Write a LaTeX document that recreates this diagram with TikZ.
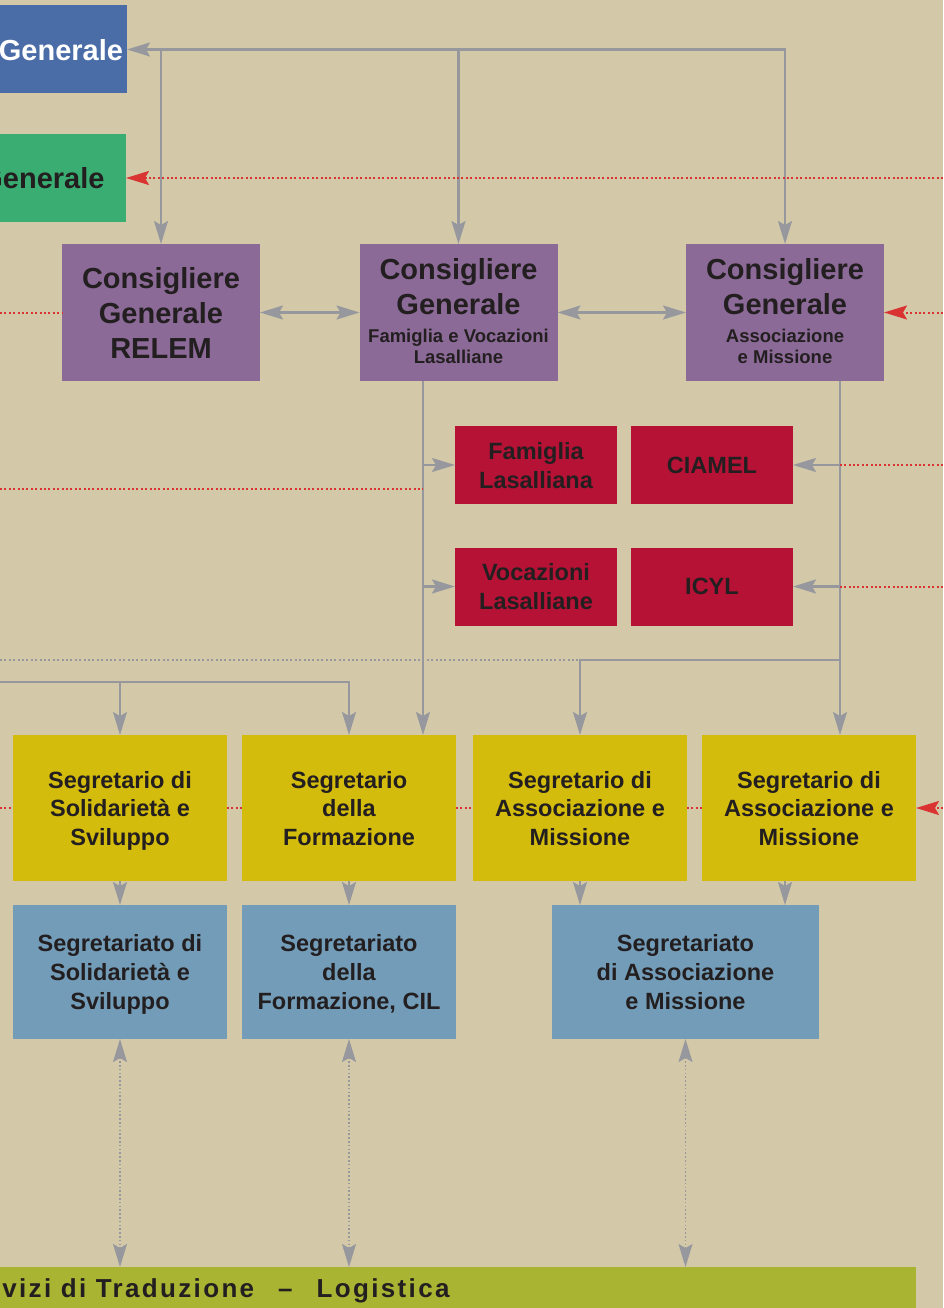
\documentclass[tikz,border=0pt]{standalone}
\usepackage{fontspec}
\setmainfont{Liberation Sans}
\newfontfamily\spaziato[LetterSpace=9]{Liberation Sans}
\usetikzlibrary{arrows.meta}

\definecolor{sfondo}{RGB}{211,201,169}
\definecolor{blu}{RGB}{74,108,167}
\definecolor{verde}{RGB}{58,174,114}
\definecolor{viola}{RGB}{140,106,152}
\definecolor{cremisi}{RGB}{181,18,53}
\definecolor{giallo}{RGB}{212,188,13}
\definecolor{azzurro}{RGB}{115,156,184}
\definecolor{oliva}{RGB}{169,180,51}
\definecolor{grigio}{RGB}{150,152,157}
\definecolor{rosso}{RGB}{218,52,50}
\definecolor{testo}{RGB}{35,31,32}

\begin{document}
\begin{tikzpicture}[x=1pt, y=-1pt, >={Stealth[length=23pt,width=14pt,inset=4pt]},
	every node/.style={inner sep=0pt, outer sep=0pt, text=testo, align=center, text depth=0pt},
	topbox/.style={font=\bfseries\fontsize{29}{34}\selectfont, minimum height=88pt},
	consbox/.style={fill=viola, minimum width=198pt, minimum height=137pt},
	cgtitle/.style={font=\bfseries\fontsize{29}{35}\selectfont},
	cgsub/.style={font=\bfseries\fontsize{18.5}{21}\selectfont},
	redbox/.style={fill=cremisi, minimum width=162pt, minimum height=78pt, font=\bfseries\fontsize{23.5}{29}\selectfont},
	segbox/.style={fill=giallo, minimum width=214pt, minimum height=146pt, font=\bfseries\fontsize{23.5}{28.5}\selectfont},
	uffbox/.style={fill=azzurro, minimum height=134pt, font=\bfseries\fontsize{23.5}{29}\selectfont},
	link/.style={draw=grigio, line width=2.1pt},
	reddots/.style={draw=rosso, line width=2pt, dash pattern=on 2pt off 2.4pt},
	greydots/.style={draw=grigio, line width=2pt, dash pattern=on 2pt off 2.4pt},
	servlink/.style={draw=grigio, line width=1.6pt, dash pattern=on 1.6pt off 2.2pt, <->}]
	\useasboundingbox (0,0) rectangle (943,1308);
	\clip (0,0) rectangle (943,1308);
	\fill[sfondo] (0,0) rectangle (943,1308);

	\node[topbox, fill=blu, text=white, minimum width=132pt] (superiore) at (61,49.5) {Generale};
	\node[topbox, fill=verde, minimum width=167pt] (vicario) at (42.5,178) {Generale};

	\node[consbox, cgtitle] (relem) at (161,312.5) {Consigliere\\Generale\\RELEM};
	\node[consbox] (fv) at (458.5,312.5) {};
	\node[consbox] (am) at (785,312.5) {};
	\node[cgtitle] (fv-t) at (458.5,286) {Consigliere\\Generale};
	\node[cgsub] (fv-s) at (458.5,346.5) {Famiglia e Vocazioni\\Lasalliane};
	\node[cgtitle] (am-t) at (785,286) {Consigliere\\Generale};
	\node[cgsub] (am-s) at (785,346.5) {Associazione\\e Missione};

	\node[redbox] (famiglia) at (536,465) {Famiglia\\Lasalliana};
	\node[redbox] (ciamel) at (712,465) {CIAMEL};
	\node[redbox] (vocazioni) at (536,586.5) {Vocazioni\\Lasalliane};
	\node[redbox] (icyl) at (712,586.5) {ICYL};

	\node[segbox] (ssol) at (120,808) {Segretario di\\Solidarietà e\\Sviluppo};
	\node[segbox] (sform) at (349,808) {Segretario\\della\\Formazione};
	\node[segbox] (sam1) at (580,808) {Segretario di\\Associazione e\\Missione};
	\node[segbox] (sam2) at (809,808) {Segretario di\\Associazione e\\Missione};

	\node[uffbox, minimum width=214pt] (segsol) at (120,972) {Segretariato di\\Solidarietà e\\Sviluppo};
	\node[uffbox, minimum width=214pt] (segform) at (349,972) {Segretariato\\della\\Formazione, CIL};
	\node[uffbox, minimum width=267pt] (segam) at (685.5,972) {Segretariato\\di Associazione\\e Missione};

	\node[fill=oliva, minimum width=976pt, minimum height=63pt] (servizi) at (428,1298.5) {};
	\node[anchor=base east, font=\spaziato\bfseries\fontsize{26}{30}\selectfont] (servizi-t) at (449.5,1297) {Servizi di Traduzione\hspace{24pt}–\hspace{24pt}Logistica};

	\coordinate (fvgiu) at ([xshift=-35.5pt]fv.south);
	\coordinate (amgiu) at ([xshift=55pt]am.south);
	\coordinate (dx1) at (943,178);
	\coordinate (sx2) at (0,312.5);
	\coordinate (dx2) at (943,312.5);
	\coordinate (sx3) at (0,489);
	\coordinate (dx3) at (943,465);
	\coordinate (dx4) at (943,586.5);
	\coordinate (sx5) at (0,660);
	\coordinate (sx6) at (0,682);
	\coordinate (sx7) at (0,808);
	\coordinate (dx7) at (943,808);

	\draw[link,<->] (am.north) |- (superiore.east);
	\foreach \n in {relem,fv} \draw[link,->] (\n.north |- superiore.east) -- (\n.north);
	\foreach \a/\b in {relem/fv,fv/am} \draw[link,<->] (\a) -- (\b);
	\draw[link,->] (fvgiu) -- (fvgiu |- sform.north);
	\foreach \n in {famiglia,vocazioni} \draw[link,->] (fvgiu |- \n.west) -- (\n.west);
	\draw[link,->] (amgiu) -- (amgiu |- sam2.north);
	\foreach \n in {ciamel,icyl} \draw[link,->] (amgiu |- \n.east) -- (\n.east);
	\draw[link,->] (amgiu |- sx5) -| (sam1.north);
	\draw[link,->] (sx6) -| (sform.north);
	\draw[link,->] (ssol.north |- sx6) -- (ssol.north);
	\draw[link,->] (ssol) -- (segsol);
	\draw[link,->] (sform) -- (segform);
	\draw[link,->] (sam1.south) -- (sam1.south |- segam.north);
	\draw[link,->] ([xshift=-24pt]sam2.south) -- ([xshift=-24pt]sam2.south |- segam.north);
	\foreach \n in {segsol,segform,segam} \draw[servlink] (\n.south) -- (\n.south |- servizi.north);

	\draw[greydots] (sx5) -- (sam1.north |- sx5);
	\draw[reddots,->] (dx1) -- (vicario.east);
	\draw[reddots] (sx2) -- (relem.west);
	\draw[reddots,->] (dx2) -- (am.east);
	\draw[reddots] (sx3) -- (fvgiu |- sx3);
	\foreach \c in {dx3,dx4} \draw[reddots] (\c) -- (amgiu |- \c);
	\draw[reddots] (sx7) -- (ssol.west);
	\foreach \a/\b in {ssol/sform,sform/sam1,sam1/sam2} \draw[reddots] (\a.east) -- (\b.west);
	\draw[reddots,->] (dx7) -- (sam2.east);
\end{tikzpicture}
\end{document}
